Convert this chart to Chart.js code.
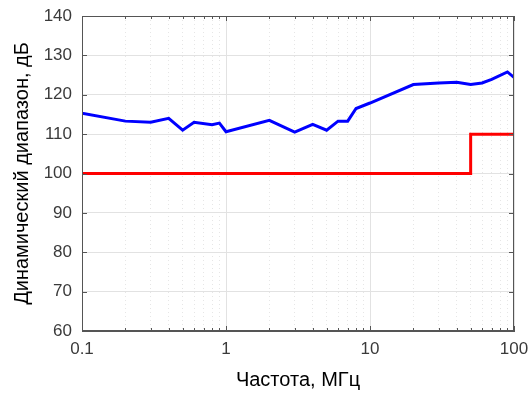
<!DOCTYPE html>
<html>
<head>
<meta charset="utf-8">
<script src="https://cdn.jsdelivr.net/npm/chart.js@4/dist/chart.umd.min.js"></script>
<style>
  html, body { margin: 0; padding: 0; background: #fff; }
  canvas { display: block; }
</style>
</head>
<body>
<canvas id="range-chart" width="532" height="395"></canvas>
<script>
// measured dynamic range vs frequency
const freqMHz = [0.1, 0.2, 0.3, 0.4, 0.5, 0.6, 0.8, 0.9, 1, 2, 3, 4, 5, 6, 7, 8, 10, 20, 30, 40, 50, 60, 70, 90, 100];
const dynRange = [115.3, 113.3, 113.0, 114.0, 111.0, 113.0, 112.4, 112.8, 110.6, 113.5, 110.5, 112.5, 111.0, 113.3, 113.3, 116.5, 117.9, 122.6, 123.0, 123.2, 122.6, 123.0, 123.9, 125.8, 124.4];

// required level (step at 50 MHz)
const limitFreq = [0.1, 50, 50, 100];
const limitLevel = [100, 100, 110, 110];

const xTickValues = [0.1, 0.2, 0.3, 0.4, 0.5, 0.6, 0.7, 0.8, 0.9, 1, 2, 3, 4, 5, 6, 7, 8, 9, 10, 20, 30, 40, 50, 60, 70, 80, 90, 100];
const yTickValues = [60, 70, 80, 90, 100, 110, 120, 130, 140];

const isDecade = v => Math.abs(Math.log10(v) - Math.round(Math.log10(v))) < 1e-9;
const toPoints = (xs, ys) => xs.map((x, i) => ({ x: x, y: ys[i] }));

// box around the plot plus inward tick marks on all four sides
const axesBox = {
  id: 'axesBox',
  afterDatasetsDraw(chart) {
    const { ctx, chartArea: a, scales: { x, y } } = chart;
    ctx.save();
    ctx.strokeStyle = '#555';
    ctx.lineWidth = 1;
    ctx.strokeRect(Math.round(a.left) + 0.5, Math.round(a.top) + 0.5,
      Math.round(a.right - a.left) - 1, Math.round(a.bottom - a.top) - 1);
    ctx.beginPath();
    x.ticks.forEach(t => {
      const px = Math.round(x.getPixelForValue(t.value)) + 0.5;
      const len = isDecade(t.value) ? 5 : 3;
      ctx.moveTo(px, a.bottom); ctx.lineTo(px, a.bottom - len);
      ctx.moveTo(px, a.top); ctx.lineTo(px, a.top + len);
    });
    y.ticks.forEach(t => {
      const py = Math.round(y.getPixelForValue(t.value)) + 0.5;
      ctx.moveTo(a.left, py); ctx.lineTo(a.left + 5, py);
      ctx.moveTo(a.right, py); ctx.lineTo(a.right - 5, py);
    });
    ctx.stroke();
    ctx.restore();
  }
};

const ctx = document.getElementById('range-chart');
const rangeChart = new Chart(ctx, {
  type: 'scatter',
  data: {
    datasets: [{
      label: 'Динамический диапазон',
      data: toPoints(freqMHz, dynRange),
      showLine: true,
      borderColor: '#0000ff',
      borderWidth: 3,
      pointRadius: 0,
      tension: 0
    }, {
      label: 'Требование',
      data: toPoints(limitFreq, limitLevel),
      showLine: true,
      borderColor: '#ff0000',
      borderWidth: 3,
      pointRadius: 0,
      tension: 0
    }]
  },
  options: {
    responsive: false,
    animation: false,
    layout: { padding: 0 },
    plugins: {
      legend: { display: false },
      tooltip: { enabled: false }
    },
    scales: {
      x: {
        type: 'logarithmic',
        min: 0.1,
        max: 100,
        afterBuildTicks: scale => {
          scale.ticks = xTickValues.map(v => ({ value: v }));
        },
        afterFit: scale => {
          scale.height = 64;
          scale.paddingLeft = 0;
          scale.paddingRight = 18;
        },
        ticks: {
          autoSkip: false,
          maxRotation: 0,
          padding: 8,
          color: '#3a3a3a',
          font: { family: 'Liberation Sans, Arial, sans-serif', size: 17 },
          callback: v => isDecade(v) ? String(v) : ''
        },
        grid: {
          drawTicks: false,
          lineWidth: 1,
          color: c => c.tick && isDecade(c.tick.value) ? '#e2e2e2' : '#e6e6e6'
        },
        border: {
          display: true,
          color: '#555',
          dash: c => c.tick && isDecade(c.tick.value) ? [] : [1, 3]
        },
        title: {
          display: true,
          text: 'Частота, МГц',
          color: '#000',
          padding: { top: 0, bottom: 3 },
          font: { family: 'Liberation Sans, Arial, sans-serif', size: 20 }
        }
      },
      y: {
        min: 60,
        max: 140,
        afterBuildTicks: scale => {
          scale.ticks = yTickValues.map(v => ({ value: v }));
        },
        afterFit: scale => {
          scale.width = 82;
          scale.paddingTop = 16;
          scale.paddingBottom = 0;
        },
        ticks: {
          padding: 10,
          color: '#3a3a3a',
          font: { family: 'Liberation Sans, Arial, sans-serif', size: 17 }
        },
        grid: {
          drawTicks: false,
          lineWidth: 1,
          color: '#e2e2e2'
        },
        border: { display: true, color: '#555' },
        title: {
          display: true,
          text: 'Динамический диапазон, дБ',
          color: '#000',
          padding: { top: 10, bottom: 0 },
          font: { family: 'Liberation Sans, Arial, sans-serif', size: 20 }
        }
      }
    }
  },
  plugins: [axesBox]
});
</script>
</body>
</html>
